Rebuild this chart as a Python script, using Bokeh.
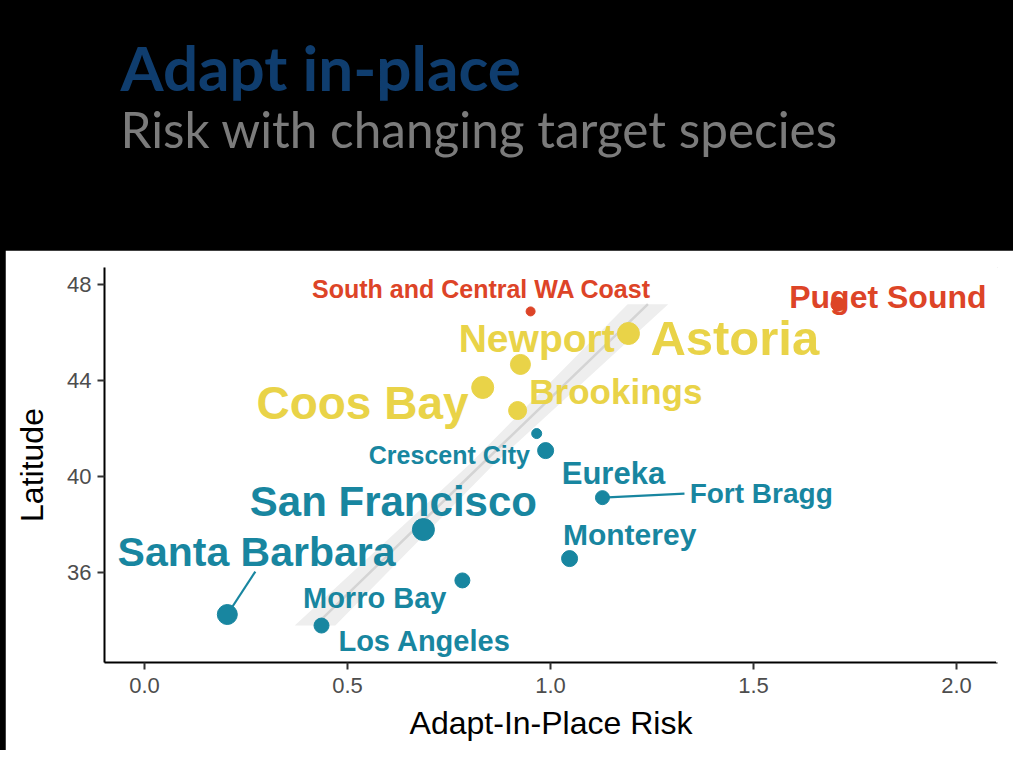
from bokeh.plotting import figure
from bokeh.models import (ColumnDataSource, Range1d, Label, FixedTicker, NumeralTickFormatter,
                          LinearAxis)
from bokeh.layouts import column
from bokeh.core.properties import value
from bokeh.embed import file_html
from bokeh.resources import INLINE

# ---- data ----
ports = ["Puget Sound", "South and Central WA Coast", "Astoria", "Newport", "Coos Bay",
         "Brookings", "Crescent City", "Eureka", "Fort Bragg", "San Francisco",
         "Monterey", "Morro Bay", "Santa Barbara", "Los Angeles"]
region = ["WA", "WA", "OR", "OR", "OR", "OR", "CA", "CA", "CA", "CA", "CA", "CA", "CA", "CA"]
risk = [1.708, 0.951, 1.192, 0.926, 0.833, 0.919, 0.966, 0.988, 1.128, 0.687,
        1.047, 0.783, 0.204, 0.436]
lat = [47.18, 46.88, 45.96, 44.67, 43.71, 42.75, 41.79, 41.08, 39.12, 37.79,
       36.58, 35.67, 34.25, 33.79]
dot_size = [14, 9, 22, 20, 22, 18, 10, 16, 14, 22, 16, 15, 20, 15]

# repelled label positions (data units, text baseline) and label sizes (px)
label_x = [1.831, 0.830, 1.454, 0.966, 0.537, 1.161, 0.751, 1.155, 1.519, 0.613,
           1.195, 0.567, 0.276, 0.690]
label_y = [47.00, 47.46, 45.04, 45.17, 42.38, 43.04, 40.54, 39.67, 38.88, 38.33,
           37.13, 34.50, 36.25, 32.71]
label_size = [32, 25, 49, 39, 46, 35, 25, 31, 28, 42, 30, 29, 41, 29]

# leader segments (Santa Barbara, Fort Bragg)
seg_x0 = [0.204, 1.128]
seg_y0 = [34.25, 39.12]
seg_x1 = [0.273, 1.330]
seg_y1 = [36.04, 39.29]

# smooth fit (risk ~ latitude) and its band
fit_lat = [33.79, 40.50, 47.18]
fit_risk = [0.42, 0.83, 1.24]
band_lo = [0.37, 0.80, 1.19]
band_hi = [0.47, 0.86, 1.29]

x_ticks = [0.0, 0.5, 1.0, 1.5, 2.0]
y_ticks = [36, 40, 44, 48]

COL = {"WA": "#dd4427", "OR": "#e9d348", "CA": "#1886a0"}
colors = [COL[r] for r in region]

BL = 0.35  # svg text baseline correction (fraction of font size)

# ---- header (same borders as the plot so the frames line up) ----
header = figure(width=1008, height=250, x_range=Range1d(104, 997), y_range=Range1d(250, 0),
                output_backend="svg", toolbar_location=None, tools="",
                min_border_left=99, min_border_right=16, min_border_top=0, min_border_bottom=0,
                x_axis_location=None, y_axis_location=None,
                background_fill_color="black", border_fill_color="black",
                outline_line_color=None, margin=(0, 0, 0, 5))
header.grid.visible = False
header.add_layout(Label(x=120, y=88 - BL * 62, text="Adapt in-place", text_font="Lato",
                        text_font_style="bold", text_font_size="62px",
                        text_color="#0f3d6e", text_baseline="alphabetic"))
header.add_layout(Label(x=120, y=146 - BL * 49.5, text="Risk with changing target species",
                        text_font="Lato", text_font_size="49.5px",
                        text_color="#7b7b7b", text_baseline="alphabetic"))

# ---- plot ----
p = figure(width=1008, height=500, x_range=Range1d(-0.0985, 2.101),
           y_range=Range1d(32.25, 48.71), output_backend="svg", toolbar_location=None,
           tools="",
           min_border_left=99, min_border_right=16, min_border_top=17, min_border_bottom=88,
           background_fill_color="white", border_fill_color="white",
           margin=(0, 0, 0, 5))
p.outline_line_color = None
p.grid.visible = False

# blank axes on top/right (white lines) so the panel has only left/bottom axis lines
for loc in ("above", "right"):
    blank = LinearAxis(ticker=FixedTicker(ticks=[]), axis_line_color="white",
                       axis_line_width=3, major_tick_line_color=None,
                       minor_tick_line_color=None, major_label_text_font_size="0px")
    p.add_layout(blank, loc)

p.harea(y=fit_lat, x1=band_lo, x2=band_hi, fill_color="#eeeeee", fill_alpha=1.0)
p.line(x=fit_risk, y=fit_lat, line_color="#d4d4d4", line_width=2.5)

p.segment(x0=seg_x0, y0=seg_y0, x1=seg_x1, y1=seg_y1, line_color=COL["CA"], line_width=2.2)

pts = ColumnDataSource(dict(x=risk, y=lat, s=dot_size, c=colors))
p.scatter(x="x", y="y", size="s", fill_color="c", line_color="c", source=pts)

ly = [y + BL * s / 24.0 for y, s in zip(label_y, label_size)]
labs = ColumnDataSource(dict(x=label_x, y=ly, t=ports, c=colors,
                             fs=[f"{s}px" for s in label_size]))
p.text(x="x", y="y", text="t", text_color="c", text_font=value("Liberation Sans"),
       text_font_style="bold", text_font_size="fs", text_align="center",
       text_baseline="alphabetic", source=labs)

xa = p.below[0]
ya = p.left[0]
xa.ticker = FixedTicker(ticks=x_ticks)
xa.formatter = NumeralTickFormatter(format="0.0")
ya.ticker = FixedTicker(ticks=y_ticks)
xa.axis_label = "Adapt-In-Place Risk"
ya.axis_label = "Latitude"
for ax in (xa, ya):
    ax.axis_line_color = "black"
    ax.axis_line_width = 2
    ax.major_tick_line_color = "#333333"
    ax.major_tick_line_width = 2
    ax.major_tick_out = 7
    ax.major_tick_in = 0
    ax.minor_tick_line_color = None
    ax.major_label_text_font = "Liberation Sans"
    ax.major_label_text_font_size = "22px"
    ax.major_label_text_color = "#4d4d4d"
    ax.axis_label_text_font = "Liberation Sans"
    ax.axis_label_text_font_size = "32px"
    ax.axis_label_text_font_style = "normal"
    ax.axis_label_text_color = "black"
xa.major_label_standoff = 8
xa.axis_label_standoff = 9
ya.major_label_standoff = 6
ya.axis_label_standoff = 14

layout = column(header, p, styles={"background-color": "#000000"})

open("out.html", "w").write(file_html(layout, INLINE))
